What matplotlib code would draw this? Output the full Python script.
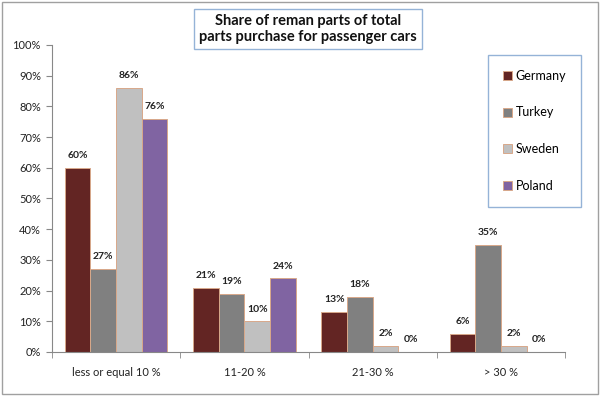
import matplotlib
matplotlib.use("Agg")
import matplotlib.pyplot as plt
from matplotlib.patches import Rectangle
import numpy as np

categories = ["less or equal 10 %", "11-20 %", "21-30 %", "> 30 %"]
series_names = ["Germany", "Turkey", "Sweden", "Poland"]
germany = [60, 21, 13, 6]
turkey = [27, 19, 18, 35]
sweden = [86, 10, 2, 2]
poland = [76, 24, 0, 0]
values = [germany, turkey, sweden, poland]
colors = ["#632523", "#808080", "#c0c0c0", "#8064a2"]
title = "Share of reman parts of total\nparts purchase for passenger cars"

plt.rcParams['font.family'] = ['Lato', 'DejaVu Sans']

fig = plt.figure(figsize=(6, 3.96), dpi=100)
ax = fig.add_axes([52/600, 1-352/396, 513/600, 307/396])

x = np.arange(len(categories))
w = 0.2
for i, (name, vals, c) in enumerate(zip(series_names, values, colors)):
    pos = x + (i - 1.5) * w
    ax.bar(pos, [v/100 for v in vals], width=w, color=c, edgecolor="#d8a88a",
           linewidth=0.7, label=name)
    for p, v in zip(pos, vals):
        ax.text(p, v/100 + 0.025, f"{v}%", ha="center", va="bottom",
                fontsize=7.5, fontweight="bold", color="#222222")

ax.set_xlim(-0.5, len(categories) - 0.5)
ax.set_ylim(0, 1.0)
ax.set_yticks(np.arange(0, 1.01, 0.1))
ax.set_yticklabels([f"{int(round(t*100))}%" for t in np.arange(0, 1.01, 0.1)],
                   fontsize=8, color="#222222")
ax.set_xticks(x)
ax.set_xticklabels(categories, fontsize=8, color="#222222")
ax.tick_params(axis="x", length=0, pad=11)
ax.set_xticks(np.arange(-0.5, len(categories) + 0.5, 1), minor=True)
ax.tick_params(axis="x", which="minor", length=4, color="#888888")
ax.tick_params(axis="y", length=4, color="#888888", pad=4)
for s in ["top", "right"]:
    ax.spines[s].set_visible(False)
for s in ["left", "bottom"]:
    ax.spines[s].set_color("#888888")

leg = ax.legend(loc="upper left", bbox_to_anchor=(488/600, 1-55/396),
                bbox_transform=fig.transFigure, fontsize=9,
                labelspacing=1.96, handlelength=0.7, handleheight=0.7,
                handletextpad=0.3, borderpad=1.2, fancybox=False,
                framealpha=1, borderaxespad=0)
leg.get_frame().set_edgecolor("#95b3d7")
leg.get_frame().set_linewidth(1.0)

fig.text(308/600, 1-29/396, title, ha="center", va="center", fontsize=10.5,
         fontweight="bold", color="#111111", linespacing=1.2,
         bbox=dict(boxstyle="square,pad=0.35", facecolor="white",
                   edgecolor="#95b3d7", linewidth=1.0))

fig.patches.append(Rectangle((0.003, 0.004), 0.994, 0.992, transform=fig.transFigure,
                             fill=False, edgecolor="#a0a0a0", linewidth=1.0))

fig.savefig("out.png", dpi=100)
